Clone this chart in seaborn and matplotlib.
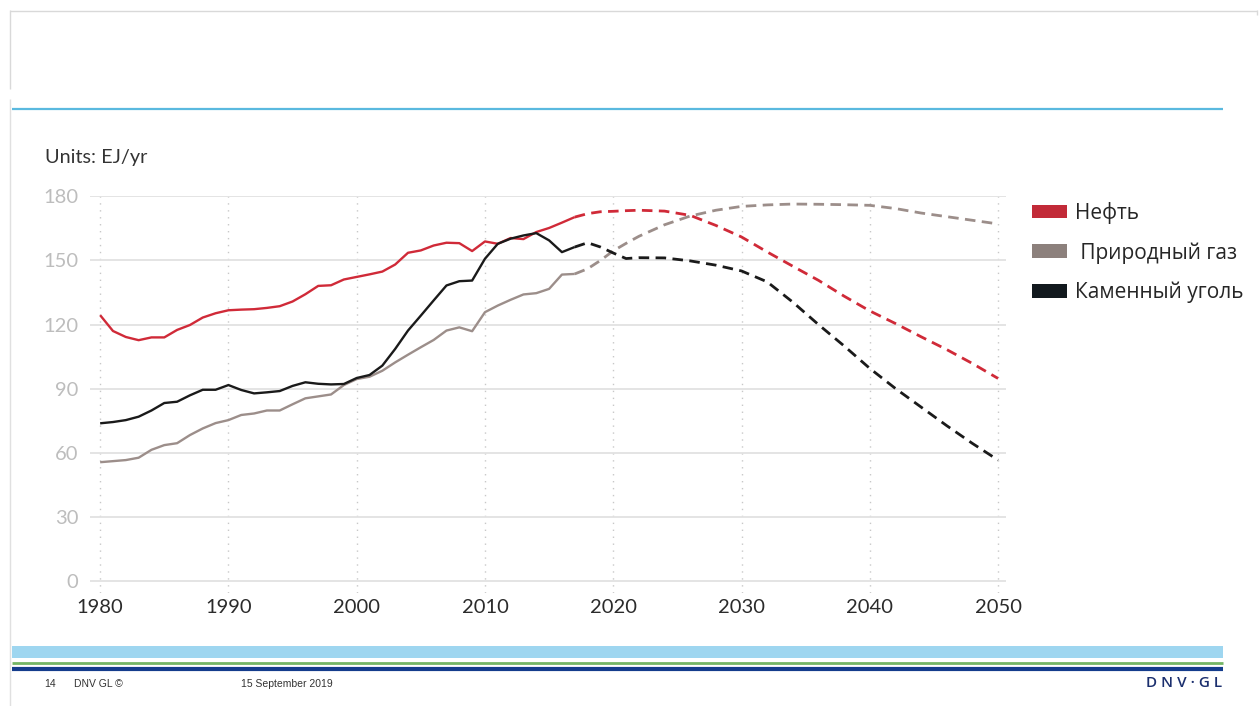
import matplotlib
matplotlib.use("Agg")
import matplotlib.pyplot as plt
from matplotlib.lines import Line2D
from matplotlib.patches import Patch, Rectangle
import seaborn as sns
import pandas as pd

# ---------------- data ----------------
years_hist = list(range(1980, 2018))
oil_hist = [124.4, 117.0, 114.2, 112.7, 114.0, 114.0, 117.5, 119.8, 123.3, 125.3,
            126.7, 127.0, 127.2, 127.8, 128.6, 130.8, 134.2, 138.1, 138.4, 141.1,
            142.3, 143.5, 144.8, 148.1, 153.6, 154.7, 157.0, 158.3, 158.1, 154.4,
            158.9, 157.8, 160.5, 160.0, 163.3, 165.2, 167.7, 170.3]
gas_hist = [55.6, 56.1, 56.6, 57.7, 61.4, 63.6, 64.5, 68.3, 71.4, 73.9,
            75.3, 77.7, 78.4, 79.8, 79.8, 82.7, 85.5, 86.4, 87.3, 91.7,
            94.5, 95.6, 98.4, 102.3, 105.9, 109.4, 112.8, 117.2, 118.7, 116.9,
            125.8, 128.9, 131.6, 134.1, 134.7, 136.7, 143.4, 143.7]
coal_hist = [73.8, 74.4, 75.3, 76.9, 79.8, 83.3, 83.9, 86.9, 89.5, 89.5,
             91.7, 89.4, 87.8, 88.3, 88.9, 91.3, 93.0, 92.3, 92.0, 92.2,
             95.0, 96.4, 100.8, 108.6, 117.2, 124.2, 131.3, 138.3, 140.3, 140.6,
             150.8, 157.8, 160.2, 161.7, 162.8, 159.4, 153.9, 156.3]

years_proj = [2017, 2018, 2019, 2020, 2021, 2022, 2024, 2026, 2028, 2030,
              2032, 2034, 2036, 2038, 2040, 2042, 2044, 2046, 2048, 2050]
oil_proj = [170.3, 171.9, 172.8, 173.0, 173.3, 173.5, 173.1, 171.1, 166.4, 161.0,
            154.0, 147.3, 140.7, 133.3, 126.4, 120.5, 114.3, 108.3, 101.8, 94.8]
gas_proj = [143.7, 146.1, 150.0, 154.5, 158.0, 161.3, 166.7, 170.8, 173.5, 175.3,
            176.0, 176.4, 176.3, 176.1, 175.8, 174.3, 172.2, 170.5, 168.8, 167.1]
coal_proj = [156.3, 158.3, 156.3, 153.5, 150.9, 151.3, 151.2, 149.8, 147.8, 145.1,
             140.0, 130.5, 120.0, 110.0, 99.5, 90.1, 81.4, 72.7, 64.4, 56.6]

series_names = ["Нефть", "Природный газ", "Каменный уголь"]
legend_labels = ["Нефть", " Природный газ", "Каменный уголь"]
x_ticks = [1980, 1990, 2000, 2010, 2020, 2030, 2040, 2050]
y_ticks = [0, 30, 60, 90, 120, 150, 180]
unit_text = "Units: EJ/yr"

line_colors = {"Нефть": "#d02a38", "Природный газ": "#9c8e8a", "Каменный уголь": "#1a1a1a"}
legend_colors = ["#c22a38", "#8c807c", "#12191e"]

# ---------------- frame ----------------
sns.set_theme(style="white")
plt.rcParams["font.family"] = ["Lato", "Open Sans", "DejaVu Sans"]

W, H = 1260, 706
fig = plt.figure(figsize=(W / 100, H / 100), dpi=100)
fig.patch.set_facecolor("white")

ax_l, ax_r, ax_t, ax_b = 89.5, 1006, 195.5, 593
ax = fig.add_axes([ax_l / W, 1 - ax_b / H, (ax_r - ax_l) / W, (ax_b - ax_t) / H])

hist_df = pd.DataFrame({
    "year": years_hist * 3,
    "value": oil_hist + gas_hist + coal_hist,
    "series": [series_names[0]] * len(years_hist) + [series_names[1]] * len(years_hist)
              + [series_names[2]] * len(years_hist),
})
proj_df = pd.DataFrame({
    "year": years_proj * 3,
    "value": oil_proj + gas_proj + coal_proj,
    "series": [series_names[0]] * len(years_proj) + [series_names[1]] * len(years_proj)
              + [series_names[2]] * len(years_proj),
})

sns.lineplot(data=hist_df, x="year", y="value", hue="series", palette=line_colors,
             linewidth=1.7, ax=ax, legend=False, zorder=3)
sns.lineplot(data=proj_df, x="year", y="value", hue="series", palette=line_colors,
             linewidth=2.0, ax=ax, legend=False, zorder=3)
for ln in ax.lines[3:]:
    ln.set_dashes((3.8, 2.3))
for ln in ax.lines:
    ln.set_solid_capstyle("butt")
    ln.set_dash_capstyle("butt")

ax.set_xlim(1979.17, 2050.62)
ax.set_ylim(-5.6, 180.4)
ax.set_xticks(x_ticks)
ax.set_yticks(y_ticks)
ax.set_xlabel("")
ax.set_ylabel("")
for s in ax.spines.values():
    s.set_visible(False)

ax.yaxis.grid(True, color="#e2e2e2", linewidth=1.3, linestyle="-", zorder=0)
ax.xaxis.grid(True, color="#c8c8c8", linewidth=1.0, linestyle=(0, (1, 4)), zorder=0)
ax.set_axisbelow(True)
ax.tick_params(axis="y", length=0, pad=8, labelsize=14.5, labelcolor="#bdbdbd")
ax.tick_params(axis="x", length=0, pad=4, labelsize=14.5, labelcolor="#2b2b2b")

fig.text(45 / W, 1 - 158 / H, unit_text, fontsize=14.3, color="#333333",
         va="center", ha="left")

# legend
handles = [Patch(facecolor=c, edgecolor="none") for c in legend_colors]
fig.legend(handles, legend_labels, loc="upper left",
           bbox_to_anchor=(1015 / W, 1 - 185 / H), frameon=False,
           prop={"family": ["Open Sans", "DejaVu Sans"], "size": 15},
           handlelength=1.7, handleheight=0.62, handletextpad=0.4,
           labelspacing=0.88, borderpad=0.3)

# ---------------- slide decorations ----------------
def hline(y, x0, x1, color, lw):
    fig.add_artist(Line2D([x0 / W, x1 / W], [1 - y / H, 1 - y / H],
                          transform=fig.transFigure, color=color, linewidth=lw,
                          solid_capstyle="butt"))

def vline(x, y0, y1, color, lw):
    fig.add_artist(Line2D([x / W, x / W], [1 - y0 / H, 1 - y1 / H],
                          transform=fig.transFigure, color=color, linewidth=lw,
                          solid_capstyle="butt"))

hline(10.5, 10, 1257, "#d9d9d9", 1.0)
vline(10, 10, 89, "#d9d9d9", 1.0)
vline(1256.5, 10, 15, "#d9d9d9", 1.0)
vline(10, 99, 706, "#e0e0e0", 1.0)
hline(109, 12, 1223, "#5ab9df", 1.6)

fig.add_artist(Rectangle((12 / W, 1 - 658 / H), (1223 - 12) / W, 12 / H,
                         transform=fig.transFigure, facecolor="#9ed6f0",
                         edgecolor="none"))
hline(663.2, 12, 1223, "#74b565", 2.0)
hline(668.8, 12, 1223, "#143c8c", 3.0)

small_family = ["Liberation Sans Narrow", "Liberation Sans", "DejaVu Sans"]
fig.text(44 / W, 1 - 684 / H, "14", fontsize=7.5, color="#333333", va="center",
         family=small_family)
fig.text(74 / W, 1 - 684 / H, "DNV GL ©", fontsize=7.5, color="#333333", va="center",
         family=small_family)
fig.text(241 / W, 1 - 684 / H, "15 September 2019", fontsize=7.5, color="#333333",
         va="center", family=small_family)
dnv = fig.text(1222 / W, 1 - 683 / H, "D N V · G L", fontsize=11, color="#1b2f6e",
               va="center", ha="right", fontweight="semibold",
               family=["Open Sans", "DejaVu Sans"])

fig.savefig("out.png", dpi=100, facecolor="white")
